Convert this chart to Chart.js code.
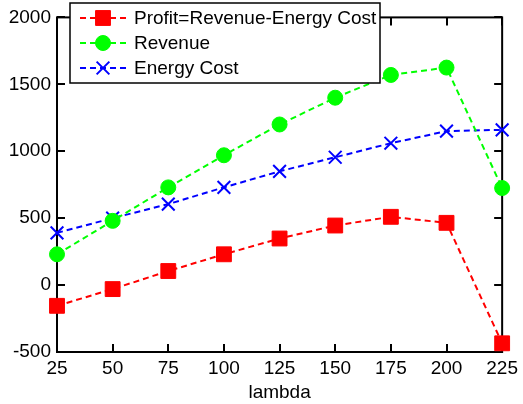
<!DOCTYPE html>
<html>
<head>
<meta charset="utf-8">
<script src="https://cdn.jsdelivr.net/npm/chart.js@4"></script>
<style>
  html, body { margin: 0; padding: 0; background: #fff; }
  #wrap { width: 523px; height: 404px; }
</style>
</head>
<body>
<div id="wrap"><canvas id="chart" width="523" height="404"></canvas></div>
<script>
// values
const lambdas = [25, 50, 75, 100, 125, 150, 175, 200, 225];
const profit = [-155, -30, 105, 230, 348, 445, 510, 465, -435];
const revenue = [230, 480, 730, 970, 1200, 1400, 1570, 1625, 725];
const energyCost = [390, 500, 605, 730, 850, 955, 1060, 1150, 1160];
const xTicks = [25, 50, 75, 100, 125, 150, 175, 200, 225];
const yTicks = [-500, 0, 500, 1000, 1500, 2000];

const FONT = "'Liberation Sans', Arial, sans-serif";
const FONT_SIZE = 19;

const toPoints = (ys) => lambdas.map((x, i) => ({ x: x, y: ys[i] }));

// frame with inward ticks on all four sides (matlab style)
const framePlugin = {
    id: 'frame',
    beforeDatasetsDraw(chart) {
        const { ctx, chartArea: a, scales } = chart;
        ctx.save();
        ctx.strokeStyle = '#000';
        ctx.lineWidth = 2;
        ctx.strokeRect(a.left, a.top, a.right - a.left, a.bottom - a.top);
        ctx.beginPath();
        xTicks.forEach(v => {
            const px = Math.round(scales.x.getPixelForValue(v));
            ctx.moveTo(px, a.bottom); ctx.lineTo(px, a.bottom - 8);
            ctx.moveTo(px, a.top); ctx.lineTo(px, a.top + 8);
        });
        yTicks.forEach(v => {
            const py = Math.round(scales.y.getPixelForValue(v));
            ctx.moveTo(a.left, py); ctx.lineTo(a.left + 8, py);
            ctx.moveTo(a.right, py); ctx.lineTo(a.right - 8, py);
        });
        ctx.stroke();
        ctx.restore();
    }
};

// legend box drawn over the top of the plot
const legendPlugin = {
    id: 'boxLegend',
    afterDraw(chart) {
        const { ctx } = chart;
        const box = { x: 70, y: 3, w: 310, h: 80 };
        ctx.save();
        ctx.fillStyle = '#fff';
        ctx.fillRect(box.x, box.y, box.w, box.h);
        ctx.strokeStyle = '#000';
        ctx.lineWidth = 1.5;
        ctx.strokeRect(box.x, box.y, box.w, box.h);
        ctx.font = FONT_SIZE + 'px ' + FONT;
        ctx.textBaseline = 'middle';
        chart.data.datasets.forEach((ds, i) => {
            const y = 18 + i * 25;
            ctx.strokeStyle = ds.borderColor;
            ctx.lineWidth = 2;
            ctx.setLineDash([6, 4]);
            ctx.beginPath();
            ctx.moveTo(80, y); ctx.lineTo(127, y);
            ctx.stroke();
            ctx.setLineDash([]);
            ctx.fillStyle = ds.pointBackgroundColor;
            ctx.strokeStyle = ds.pointBorderColor;
            ctx.lineWidth = ds.pointBorderWidth;
            Chart.helpers.drawPoint(ctx, {
                pointStyle: ds.pointStyle,
                radius: ds.pointRadius,
                rotation: 0,
                borderWidth: ds.pointBorderWidth
            }, 103, y);
            ctx.fillStyle = '#000';
            ctx.fillText(ds.label, 134, y + 1);
        });
        ctx.restore();
    }
};

new Chart(document.getElementById('chart').getContext('2d'), {
    type: 'line',
    data: {
        datasets: [{
            label: 'Profit=Revenue-Energy Cost',
            data: toPoints(profit),
            borderColor: '#ff0000',
            borderWidth: 2,
            borderDash: [6, 4],
            pointStyle: 'rect',
            pointRadius: 10.5,
            pointBackgroundColor: '#ff0000',
            pointBorderColor: '#ff0000',
            pointBorderWidth: 1,
            clip: false
        }, {
            label: 'Revenue',
            data: toPoints(revenue),
            borderColor: '#00ff00',
            borderWidth: 2,
            borderDash: [6, 4],
            pointStyle: 'circle',
            pointRadius: 7.5,
            pointBackgroundColor: '#00ff00',
            pointBorderColor: '#00ff00',
            pointBorderWidth: 1,
            clip: false
        }, {
            label: 'Energy Cost',
            data: toPoints(energyCost),
            borderColor: '#0000ff',
            borderWidth: 2,
            borderDash: [6, 4],
            pointStyle: 'crossRot',
            pointRadius: 9,
            pointBackgroundColor: '#0000ff',
            pointBorderColor: '#0000ff',
            pointBorderWidth: 2,
            clip: false
        }]
    },
    options: {
        responsive: false,
        animation: false,
        layout: { padding: { top: 14, right: 16, left: 0, bottom: 0 } },
        elements: { line: { tension: 0 } },
        scales: {
            x: {
                type: 'linear',
                min: 25,
                max: 225,
                afterFit: (s) => { s.height = 52; },
                afterBuildTicks: (s) => { s.ticks = xTicks.map(v => ({ value: v })); },
                grid: { display: false, drawTicks: false },
                border: { display: false },
                ticks: {
                    color: '#000', font: { family: FONT, size: FONT_SIZE }, padding: 5, maxRotation: 0,
                    callback: (v) => String(v)
                },
                title: { display: true, text: 'lambda', color: '#000', font: { family: FONT, size: FONT_SIZE }, padding: { top: 0, bottom: 0 } }
            },
            y: {
                min: -500,
                max: 2000,
                afterFit: (s) => { s.width = 57; },
                afterBuildTicks: (s) => { s.ticks = yTicks.map(v => ({ value: v })); },
                grid: { display: false, drawTicks: false },
                border: { display: false },
                ticks: {
                    color: '#000', font: { family: FONT, size: FONT_SIZE }, padding: 6,
                    callback: (v) => String(v)
                }
            }
        },
        plugins: {
            legend: { display: false },
            tooltip: { enabled: false }
        }
    },
    plugins: [framePlugin, legendPlugin]
});
</script>
</body>
</html>
